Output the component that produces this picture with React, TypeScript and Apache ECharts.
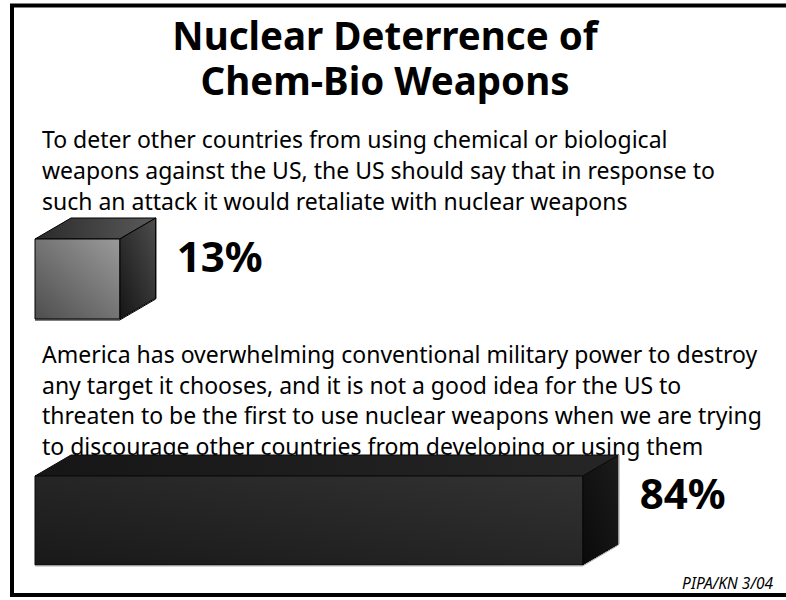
import React, { useEffect, useRef } from "react";
import * as echarts from "echarts";

const titleLines = ["Nuclear Deterrence of", "Chem-Bio Weapons"];
const statementA = [
  "To deter other countries from using chemical or biological",
  "weapons against the US, the US should say that in response to",
  "such an attack it would retaliate with nuclear weapons",
];
const statementB = [
  "America has overwhelming conventional military power to destroy",
  "any target it chooses, and it is not a good idea for the US to",
  "threaten to be the first to use nuclear weapons when we are trying",
  "to discourage other countries from developing or using them",
];
const categories = ["Retaliate with nuclear weapons", "Do not threaten first use"];
const percents = [13, 84];
const source = "PIPA/KN 3/04";

const FONT = "'Noto Sans', 'Open Sans', sans-serif";

type Palette = {
  front: [string, string];
  top: [string, string];
  side: [string, string];
  stroke: string;
  edge: string;
};

const palettes: Palette[] = [
  {
    front: ["#4e4e4e", "#9a9a9a"],
    top: ["#2a2a2a", "#5a5a5a"],
    side: ["#4d4d4d", "#151515"],
    stroke: "#000000",
    edge: "#000000",
  },
  {
    front: ["#191919", "#323232"],
    top: ["#161616", "#262626"],
    side: ["#1c1c1c", "#0a0a0a"],
    stroke: "#0a0a0a",
    edge: "#b0b0b0",
  },
];

const makeRender = (pal: Palette) => (params: any, api: any) => {
  const v = api.value(0);
  const c = api.value(1);
  const p0 = api.coord([0, c]);
  const p1 = api.coord([v, c]);
  const bh = api.size([0, 1])[1];
  const x0 = p0[0];
  const x1 = p1[0];
  const yTop = p0[1] - bh / 2;
  const yBot = p0[1] + bh / 2;
  const dx = 36;
  const dy = 21;
  return {
    type: "group",
    children: [
      {
        type: "polygon",
        shape: { points: [[x0, yTop], [x0 + dx, yTop - dy], [x1 + dx, yTop - dy], [x1, yTop]] },
        style: {
          fill: new echarts.graphic.LinearGradient(0, 0, 1, 0, [
            { offset: 0, color: pal.top[0] },
            { offset: 1, color: pal.top[1] },
          ]),
          stroke: pal.stroke,
          lineWidth: 1,
        },
      },
      {
        type: "polygon",
        shape: { points: [[x1, yTop], [x1 + dx, yTop - dy], [x1 + dx, yBot - dy], [x1, yBot]] },
        style: {
          fill: new echarts.graphic.LinearGradient(1, 0, 0, 1, [
            { offset: 0, color: pal.side[0] },
            { offset: 1, color: pal.side[1] },
          ]),
          stroke: pal.stroke,
          lineWidth: 1,
        },
      },
      {
        type: "rect",
        shape: { x: x0, y: yTop, width: x1 - x0, height: bh },
        style: {
          fill: new echarts.graphic.LinearGradient(0, 1, 1, 0, [
            { offset: 0, color: pal.front[0] },
            { offset: 1, color: pal.front[1] },
          ]),
          stroke: pal.stroke,
          lineWidth: 1,
        },
      },
      {
        type: "polyline",
        shape: { points: [[x0, yBot + 1], [x1, yBot + 1], [x1 + dx, yBot - dy + 1], [x1 + dx, yTop - dy]] },
        style: { fill: null, stroke: pal.edge, lineWidth: 1 },
      },
      {
        type: "text",
        style: {
          x: x1 + dx + 21,
          y: yTop + 16,
          text: v + "%",
          fill: "#000",
          font: `bold 42px ${FONT}`,
          textAlign: "left",
          textVerticalAlign: "middle",
        },
      },
    ],
  };
};

export default function App() {
  const ref = useRef<HTMLDivElement>(null);
  useEffect(() => {
    document.body.style.margin = "0";
    if (!ref.current) return;
    const chart = echarts.init(ref.current, null, { renderer: "svg" });

    const textEls: any[] = [];
    textEls.push({
      type: "text",
      x: 385,
      y: 12,
      style: {
        text: titleLines.join("\n"),
        font: `bold 38.5px ${FONT}`,
        lineHeight: 45,
        fill: "#000",
        textAlign: "center",
      },
    });
    statementA.forEach((t, i) => {
      textEls.push({
        type: "text",
        x: 42,
        y: 139 + i * 31,
        style: { text: t, font: `23px ${FONT}`, fill: "#000", textVerticalAlign: "middle" },
      });
    });
    statementB.forEach((t, i) => {
      textEls.push({
        type: "text",
        x: 42,
        y: 354 + i * 30.7,
        style: { text: t, font: `23px ${FONT}`, fill: "#000", textVerticalAlign: "middle" },
      });
    });
    textEls.push({
      type: "text",
      x: 773,
      y: 583,
      style: {
        text: source,
        font: `italic 15.5px ${FONT}`,
        fill: "#000",
        textAlign: "right",
        textVerticalAlign: "middle",
      },
    });
    textEls.push({
      type: "rect",
      shape: { x: 12, y: 5.5, width: 800, height: 589.5 },
      style: { fill: null, stroke: "#000", lineWidth: 4 },
      silent: true,
    });

    chart.setOption({
      animation: false,
      grid: [
        { left: 35, width: 652, top: 239, height: 80 },
        { left: 35, width: 652, top: 476, height: 89 },
      ],
      xAxis: [0, 1].map((i) => ({
        type: "value",
        gridIndex: i,
        min: 0,
        max: 100,
        show: false,
      })),
      yAxis: [0, 1].map((i) => ({
        type: "category",
        gridIndex: i,
        data: [categories[i]],
        show: false,
      })),
      series: percents.map((p, i) => ({
        type: "custom",
        xAxisIndex: i,
        yAxisIndex: i,
        renderItem: makeRender(palettes[i]),
        data: [[p, 0]],
        clip: false,
      })),
      graphic: textEls,
    });
    return () => chart.dispose();
  }, []);
  return <div ref={ref} style={{ width: 786, height: 600 }} />;
}
